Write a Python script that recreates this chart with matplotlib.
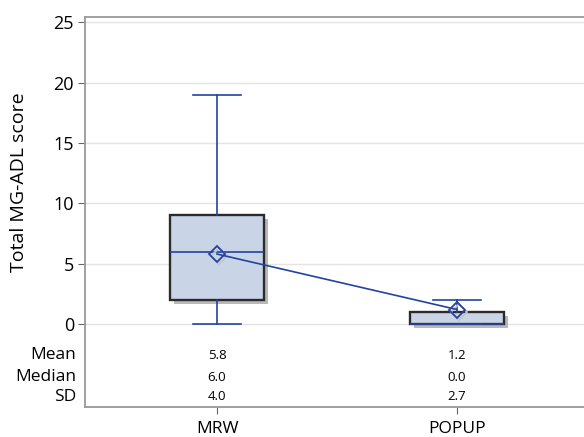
import matplotlib
matplotlib.use("Agg")
import matplotlib.pyplot as plt
import matplotlib.transforms as mtransforms
from matplotlib.patches import Rectangle

# ── Data ───────────────────────────────────────────────────
groups = ["MRW", "POPUP"]
whislo = [0, 0]
q1 = [2, 0]
median = [6, 0]
q3 = [9, 1]
whishi = [19, 2]
mean = [5.8, 1.2]
sd = [4.0, 2.7]
yticks = [0, 5, 10, 15, 20, 25]

BLUE = "#2343a0"
FILL = "#c9d5e6"
EDGE = "#2b2b2b"

plt.rcParams["font.family"] = ["Open Sans", "DejaVu Sans"]

fig = plt.figure(figsize=(5.84, 4.37), dpi=100)
ax = fig.add_axes([85 / 584, 30 / 437, 504 / 584, 390 / 437])

pos = list(range(len(groups)))
stats = [
    dict(label=g, whislo=whislo[i], q1=q1[i], med=median[i], q3=q3[i],
         whishi=whishi[i], mean=mean[i], fliers=[])
    for i, g in enumerate(groups)
]

width = 0.39
ax.bxp(stats, positions=pos, widths=width, capwidths=0.2,
       patch_artist=True, showmeans=False, showfliers=False,
       boxprops=dict(facecolor=FILL, edgecolor=EDGE, linewidth=1.7),
       medianprops=dict(color=BLUE, linewidth=1.2),
       whiskerprops=dict(color=BLUE, linewidth=1.2),
       capprops=dict(color=BLUE, linewidth=1.2),
       manage_ticks=False, zorder=3)

# drop shadows
shadow = mtransforms.offset_copy(ax.transData, fig, x=4, y=-4, units="dots")
for i in pos:
    ax.add_patch(Rectangle((i - width / 2, q1[i]), width, q3[i] - q1[i],
                           transform=shadow, facecolor="#a8a8a8",
                           edgecolor="none", alpha=0.8, zorder=2))
ax.plot(pos, mean, linestyle="none", marker="D", markersize=8.5,
        markerfacecolor="none", markeredgecolor="#c4c4c4",
        markeredgewidth=1.3, transform=mtransforms.offset_copy(
            ax.transData, fig, x=2, y=-2, units="dots"), zorder=4)

# mean connect line + markers
ax.plot(pos, mean, color=BLUE, linewidth=1.2, zorder=5)
ax.plot(pos, mean, linestyle="none", marker="D", markersize=8.5,
        markerfacecolor="none", markeredgecolor=BLUE,
        markeredgewidth=1.3, zorder=6)

ax.set_xlim(-0.55, 1.55)
ax.set_ylim(-6.88, 25.45)
ax.set_yticks(yticks)
ax.set_xticks(pos)
ax.set_xticklabels(groups, fontsize=12.5)
ax.tick_params(axis="y", labelsize=13, length=5, color="#666666", pad=3)
ax.tick_params(axis="x", length=5, color="#666666", pad=5)
ax.yaxis.grid(True, color="#e4e4e4", linewidth=1)
ax.set_axisbelow(True)
for s in ax.spines.values():
    s.set_color("#999999")
    s.set_linewidth(1.3)

ax.set_ylabel("Total MG-ADL score", fontsize=14)
ax.yaxis.set_label_coords(-0.113, 0.577)

# statistics table
rows = [("Mean", mean), ("Median", median), ("SD", sd)]
row_y = [-2.6, -4.42, -6.05]
ytr = ax.get_yaxis_transform()
for (name, vals), y in zip(rows, row_y):
    ax.text(-0.018, y, name, transform=ytr, ha="right", va="center",
            fontsize=12.5)
    for i in pos:
        ax.text(i, y, f"{vals[i]:.1f}", ha="center", va="center",
                fontsize=9.5)

fig.savefig("out.png", dpi=100)
